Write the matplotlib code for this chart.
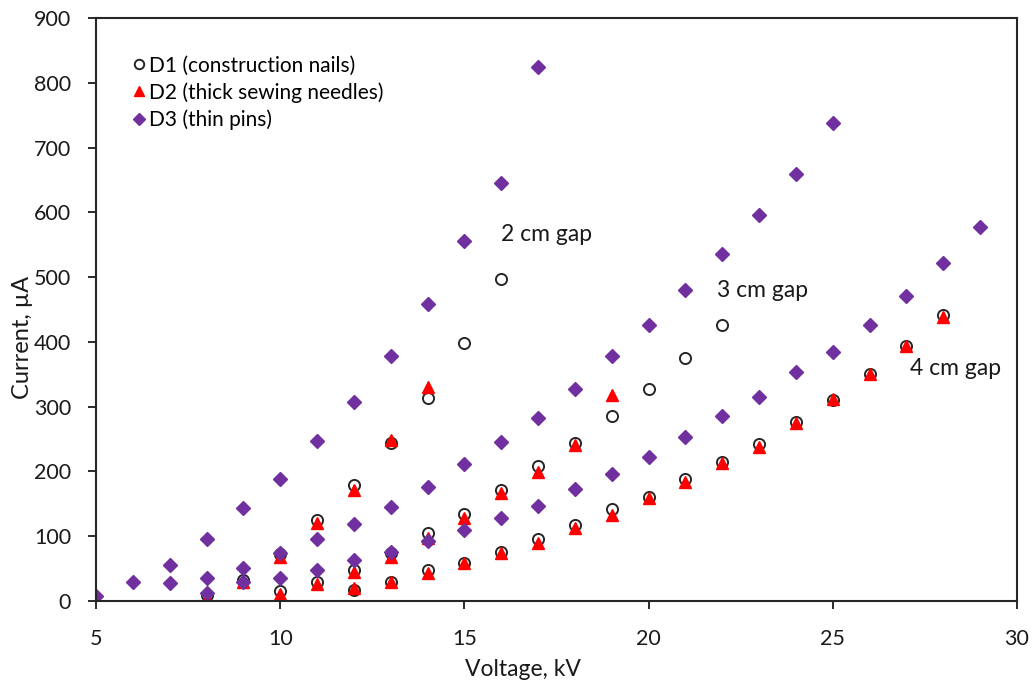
import matplotlib
matplotlib.use('Agg')
import matplotlib.pyplot as plt

plt.rcParams['font.family'] = ['Lato', 'DejaVu Sans']

# D1 (construction nails)
d1_2cm_x = [8, 9, 10, 11, 12, 13, 14, 15, 16]
d1_2cm_y = [9, 32, 73, 125, 179, 244, 313, 399, 497]
d1_3cm_x = [10, 11, 12, 13, 14, 15, 16, 17, 18, 19, 20, 21, 22]
d1_3cm_y = [15, 29, 48, 74, 105, 134, 171, 208, 244, 285, 327, 375, 426]
d1_4cm_x = [12, 13, 14, 15, 16, 17, 18, 19, 20, 21, 22, 23, 24, 25, 26, 27, 28]
d1_4cm_y = [17, 29, 48, 59, 76, 95, 117, 142, 161, 188, 215, 242, 277, 310, 350, 393, 441]

# D2 (thick sewing needles)
d2_2cm_x = [8, 9, 10, 11, 12, 13, 14]
d2_2cm_y = [5, 29, 68, 120, 171, 248, 331]
d2_3cm_x = [10, 11, 12, 13, 14, 15, 16, 17, 18, 19]
d2_3cm_y = [11, 26, 45, 68, 97, 128, 166, 199, 241, 318]
d2_4cm_x = [12, 13, 14, 15, 16, 17, 18, 19, 20, 21, 22, 23, 24, 25, 26, 27, 28]
d2_4cm_y = [20, 29, 43, 58, 74, 90, 113, 133, 159, 184, 213, 238, 274, 312, 350, 393, 439]

# D3 (thin pins)
d3_2cm_x = [5, 6, 7, 8, 9, 10, 11, 12, 13, 14, 15, 16, 17]
d3_2cm_y = [8, 30, 56, 95, 143, 188, 247, 307, 378, 458, 555, 645, 824]
d3_3cm_x = [7, 8, 9, 10, 11, 12, 13, 14, 15, 16, 17, 18, 19, 20, 21, 22, 23, 24, 25]
d3_3cm_y = [27, 35, 51, 74, 96, 119, 145, 176, 211, 245, 283, 327, 378, 426, 480, 536, 596, 659, 738]
d3_4cm_x = [8, 9, 10, 11, 12, 13, 14, 15, 16, 17, 18, 19, 20, 21, 22, 23, 24, 25, 26, 27, 28, 29]
d3_4cm_y = [12, 29, 36, 48, 63, 76, 92, 110, 128, 147, 173, 196, 223, 253, 285, 315, 354, 385, 426, 471, 522, 578]

purple = '#7030A0'
red = '#FF0000'
txt = '#1a1a1a'

fig = plt.figure(figsize=(10.33, 6.81), dpi=100)
ax = fig.add_axes([0.093, 0.1175, 0.8915, 0.8561])

# circles
d1_style = dict(marker='o', linestyle='none', markersize=8, markerfacecolor='none',
                markeredgecolor='#262626', markeredgewidth=1.4)
ax.plot(d1_2cm_x, d1_2cm_y, label='D1 (construction nails)', **d1_style)
ax.plot(d1_3cm_x, d1_3cm_y, **d1_style)
ax.plot(d1_4cm_x, d1_4cm_y, **d1_style)

# triangles
d2_style = dict(marker='^', linestyle='none', markersize=8.5, color=red)
ax.plot(d2_2cm_x, d2_2cm_y, label='D2 (thick sewing needles)', **d2_style)
ax.plot(d2_3cm_x, d2_3cm_y, **d2_style)
ax.plot(d2_4cm_x, d2_4cm_y, **d2_style)

# diamonds
d3_style = dict(marker='D', linestyle='none', markersize=7, color=purple)
ax.plot(d3_2cm_x, d3_2cm_y, label='D3 (thin pins)', **d3_style)
ax.plot(d3_3cm_x, d3_3cm_y, **d3_style)
ax.plot(d3_4cm_x, d3_4cm_y, **d3_style)

ax.text(16.0, 566, '2 cm gap', fontsize=16.5, va='center', color=txt)
ax.text(21.85, 480, '3 cm gap', fontsize=16.5, va='center', color=txt)
ax.text(27.1, 359, '4 cm gap', fontsize=16.5, va='center', color=txt)

ax.set_xlim(5, 30)
ax.set_ylim(0, 900)
ax.set_xticks([5, 10, 15, 20, 25, 30])
ax.set_yticks(range(0, 901, 100))
ax.tick_params(direction='out', length=6, width=1.3, labelsize=15.5, colors=txt)
ax.tick_params(axis='x', pad=14)
ax.tick_params(axis='y', pad=12)
for s in ax.spines.values():
    s.set_linewidth(1.5)
    s.set_color('#262626')

ax.set_xlabel('Voltage, kV', fontsize=16.5, color=txt)
ax.xaxis.set_label_coords(0.464, -0.1)
ax.set_ylabel('Current, µA', fontsize=17, color=txt)
ax.yaxis.set_label_coords(-0.069, 0.452)

ax.legend(loc='upper left', bbox_to_anchor=(0.027, 0.95), frameon=False, fontsize=15,
          handletextpad=0.05, labelspacing=0.32, handlelength=0.9, borderaxespad=0,
          markerscale=0.85)

fig.savefig('out.png', dpi=100)
